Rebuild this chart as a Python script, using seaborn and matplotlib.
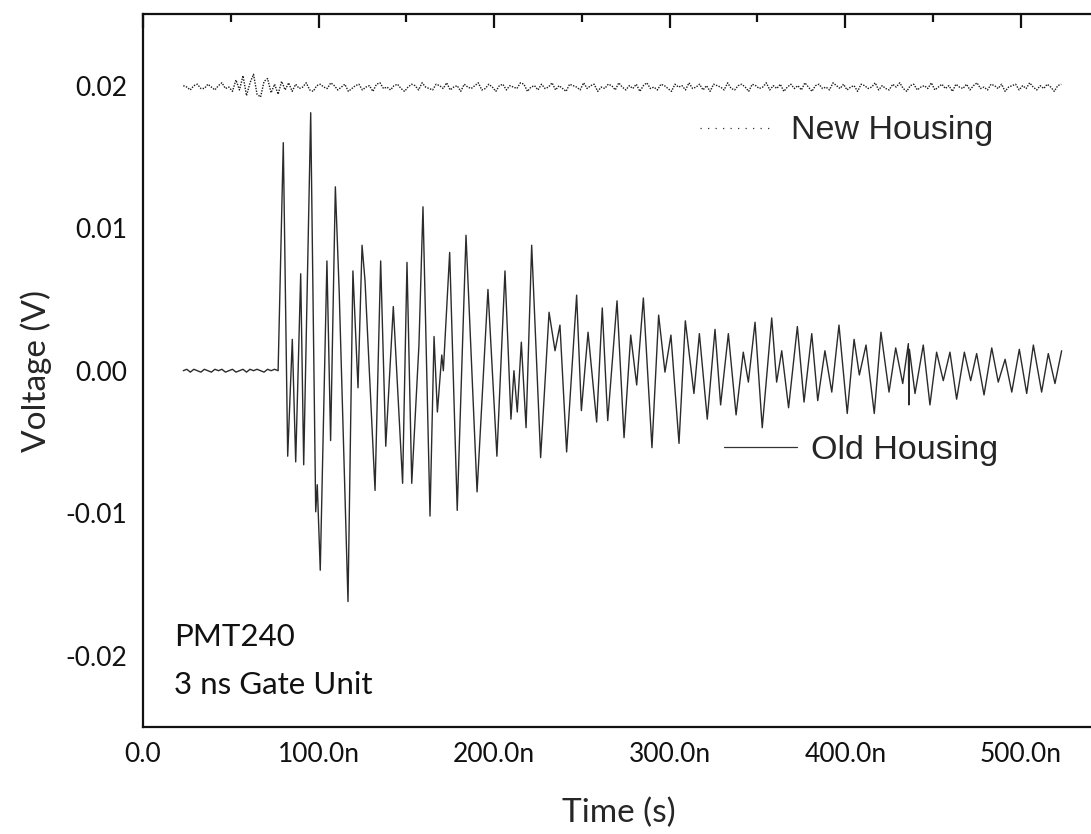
import numpy as np
import pandas as pd
import matplotlib
matplotlib.use("Agg")
import matplotlib.pyplot as plt
from matplotlib.lines import Line2D
from matplotlib.ticker import FuncFormatter, MultipleLocator
import seaborn as sns

# ---------------------------------------------------------------- data
# New housing: trace level (mV) and sample-by-sample deviations (0.1 mV),
# one sample every 2 ns starting at 23 ns
new_level_mv = 19.9
new_dev = [
    1, 0, -2, 1, 2, -1, -1, 2, 0, -2, 1, 3, -1, 0,
    -3, 5, -2, 8, -6, 3, 9, -5, -7, 4, 6, -4, 2, -5, 4, -2, 3, -3,
    2, -1, 0, 3, -2, -3, 1, 2, 0, -1, 3, 1, -2, 0, 2, -3, -1, 1, 2, -2,
    0, 1, -3, 2, 3, -1, 0, -2, 1, 2, -1, -3, 0, 2, 1, -2, 3, 0, -1, -2,
    2, 1, -1, 3, -2, 0, 1, -3, 2, 0, -1, 1, 3, -2, -1, 2, 0, -3, 1, 2,
    -2, 1, 0, -1, 3, 2, -3, 0, 1, -2, 2, -1, 0, 3, -2, 1, -1, -3, 2, 1,
    0, -2, 3, -1, 1, 2, -3, 0, -1, 2, 1, -2, 3, 0, -2, 1, -1, 2, -3, 1,
    3, -1, 0, -2, 2, 1, -1, -3, 2, 0, 1, -2, 3, -1, 0, 2, -2, 1, -3, 2,
    1, 0, -2, 3, -1, -2, 1, 2, 0, -3, 2, 1, -1, 0, 3, -2, 1, -1, 2, -3,
    0, 2, -1, 1, -2, 3, 0, -3, 1, 2, -1, 0, -2, 3, 1, -1, 2, -2, 0, 1,
    -3, 2, 1, -1, 0, 3, -2, 1, -1, -2, 2, 0, 3, -1, -3, 1, 2, -2, 0, 1,
    -1, 3, -2, 0, 2, -1, 1, -3, 2, 0, -1, 2, -2, 1, 3, -1, 0, -2, 2, 1,
    -1, 2, -3, 0, 1, 2, -2, 1, -1, 3, 0, -2, 1, -1, 2, 0, -3, 1, 2,
]
new_start_ns = 23.0
new_step_ns = 2.0

# Old housing: quiet pre-trigger baseline (mV), one sample every 2 ns from 23 ns
old_base_mv = [0.0, 0.1, -0.1, 0.1, 0.0, -0.1, 0.1, 0.0, -0.1, 0.1, 0.0, 0.1,
               -0.1, 0.0, 0.1, -0.1, 0.0, 0.1, -0.1, 0.1, 0.0, 0.1, 0.0, -0.1,
               0.1, 0.0, 0.1, 0.0]
old_base_start_ns = 23.0
old_base_step_ns = 2.0

# Old housing: ringing after the trigger, turning points (ns, mV)
old_ring_ns = [
    79.95, 82.46, 85.08, 87.02, 89.86, 91.57, 95.56, 98.41, 99.3, 101.0,
    104.8, 106.9, 109.6, 111.8, 116.8, 119.6, 122.5, 124.8, 126.5, 132.2,
    135.4, 138.3, 142.6, 147.9, 150.4, 153.1, 157.2, 159.5, 163.5, 165.8,
    167.7, 170.2, 171.1, 174.7, 179.0, 184.0, 190.3, 196.5, 201.6, 206.2,
    209.6, 211.3, 213.2, 215.5, 218.2, 221.4, 226.5, 231.3, 234.7, 237.5,
    241.3, 247.0, 249.7, 253.5, 258.4, 261.6, 264.7, 270.0, 274.0, 277.8,
    281.2, 285.0, 289.9, 293.7, 297.3, 300.7, 305.3, 308.9, 313.8, 316.9,
    321.4, 325.8, 329.0, 333.4, 337.8, 341.9, 344.8, 348.6, 352.7, 358.1,
    360.9, 363.8, 367.7, 372.7, 376.5, 380.9, 384.3, 388.4, 392.3, 396.4,
    401.1, 405.0, 408.0, 411.8, 416.5, 420.3, 424.9, 428.7, 432.7, 435.9,
    436.2, 436.5, 439.7, 444.4, 448.2, 452.0, 455.8, 459.6, 463.4, 467.8,
    471.4, 474.8, 479.0, 483.4, 487.1, 491.0, 494.8, 499.1, 503.3, 507.1,
    511.8, 515.6, 519.4, 523.2,
]
old_ring_mv = [
    16.0, -6.0, 2.2, -6.4, 6.8, -6.6, 18.1, -9.9, -8.0, -14.0,
    7.7, -4.9, 12.9, 5.5, -16.2, 7.0, -1.2, 8.8, 6.3, -8.4,
    7.7, -5.3, 4.5, -7.9, 7.6, -7.9, 1.8, 11.5, -10.2, 2.4,
    -2.9, 1.1, 0.0, 8.3, -9.8, 9.5, -8.5, 5.7, -6.0, 7.0,
    -3.4, 0.0, -2.9, 2.0, -4.0, 8.8, -6.1, 4.1, 1.4, 3.2,
    -5.7, 5.3, -2.8, 2.7, -3.6, 4.4, -3.5, 4.9, -4.7, 2.5,
    -1.0, 5.1, -5.4, 3.9, -0.1, 2.5, -5.1, 3.5, -1.6, 2.6,
    -3.4, 2.9, -2.4, 2.6, -3.1, 1.3, -0.8, 3.4, -4.0, 3.7,
    -0.8, 1.4, -2.6, 3.1, -2.2, 2.6, -2.1, 1.4, -1.5, 3.2,
    -3.0, 2.2, -0.3, 1.8, -3.0, 2.7, -1.5, 1.6, -0.9, 1.9,
    -2.4, 1.5, -1.6, 1.8, -2.4, 1.3, -0.7, 1.3, -2.0, 1.3,
    -0.7, 1.2, -1.7, 1.6, -0.8, 0.8, -1.5, 1.5, -1.6, 1.8,
    -1.5, 1.2, -0.9, 1.4,
]

series_labels = ["New Housing", "Old Housing"]
annotation_lines = ["PMT240", "3 ns Gate Unit"]

# ---------------------------------------------------------------- frames
t_new = (new_start_ns + new_step_ns * np.arange(len(new_dev))) * 1e-9
v_new = (new_level_mv + 0.1 * np.asarray(new_dev)) * 1e-3
df_new = pd.DataFrame({"time": t_new, "voltage": v_new})

t_base = old_base_start_ns + old_base_step_ns * np.arange(len(old_base_mv))
t_old = np.concatenate([t_base, old_ring_ns]) * 1e-9
v_old = np.concatenate([old_base_mv, old_ring_mv]) * 1e-3
df_old = pd.DataFrame({"time": t_old, "voltage": v_old})

# ---------------------------------------------------------------- style
sns.set_theme(style="white")
plt.rcParams["font.family"] = ["Lato", "DejaVu Sans"]
plt.rcParams["axes.linewidth"] = 1.6

W, H = 1091, 834
fig = plt.figure(figsize=(W / 100, H / 100), dpi=100)
px_left, px_right, px_top, px_bottom = 142.9, 1095.0, 14.4, 727.0
ax = fig.add_axes([px_left / W, 1 - px_bottom / H,
                   (px_right - px_left) / W, (px_bottom - px_top) / H])

sns.lineplot(data=df_new, x="time", y="voltage", ax=ax, color="#1a1a1a",
             linewidth=1.0, linestyle=(0, (1, 1)), estimator=None, sort=False)
sns.lineplot(data=df_old, x="time", y="voltage", ax=ax, color="#2b2b2b",
             linewidth=1.0, estimator=None, sort=False)

ax.set_xlim(0, (px_right - px_left) / 1.756 * 1e-9)
ax.set_ylim(-0.025, 0.025)

ax.xaxis.set_major_locator(MultipleLocator(100e-9))
ax.xaxis.set_minor_locator(MultipleLocator(50e-9))
ax.yaxis.set_major_locator(MultipleLocator(0.01))
ax.yaxis.set_minor_locator(MultipleLocator(0.005))
ax.xaxis.set_major_formatter(FuncFormatter(
    lambda v, p: "0.0" if abs(v) < 1e-12 else f"{v * 1e9:.1f}n"))
ax.yaxis.set_major_formatter(FuncFormatter(
    lambda v, p: f"{v:.2f}".replace("-0.00", "0.00")))

ax.tick_params(which="both", direction="in", top=True, right=False,
               colors="#111111", width=1.6)
ax.tick_params(which="major", length=10, labelsize=19, pad=11)
ax.tick_params(which="minor", length=5.5)
for s in ax.spines.values():
    s.set_color("#111111")
    s.set_linewidth(1.6)

ax.set_xlabel("Time (s)", fontsize=24, labelpad=22)
ax.set_ylabel("Voltage (V)", fontsize=24, labelpad=10)

# series labels with line samples
leg_font = {"family": "Liberation Sans", "size": 24.5}
h_new = Line2D([], [], color="#333333", linewidth=0.9, linestyle=(0, (1, 5)))
h_old = Line2D([], [], color="#333333", linewidth=0.9)
leg1 = fig.legend([h_new], [series_labels[0]], loc="center left",
                  bbox_to_anchor=(700 / W, 1 - 131 / H), frameon=False,
                  prop=leg_font, borderpad=0, borderaxespad=0,
                  handlelength=2.2, handletextpad=0.48)
leg2 = fig.legend([h_old], [series_labels[1]], loc="center left",
                  bbox_to_anchor=(724 / W, 1 - 450 / H), frameon=False,
                  prop=leg_font, borderpad=0, borderaxespad=0,
                  handlelength=2.15, handletextpad=0.42)

for i, line in enumerate(annotation_lines):
    fig.text(174 / W, 1 - (637 + 47.6 * i) / H, line, fontsize=22.5,
             ha="left", va="center", color="#111111")

fig.savefig("out.png", dpi=100)
